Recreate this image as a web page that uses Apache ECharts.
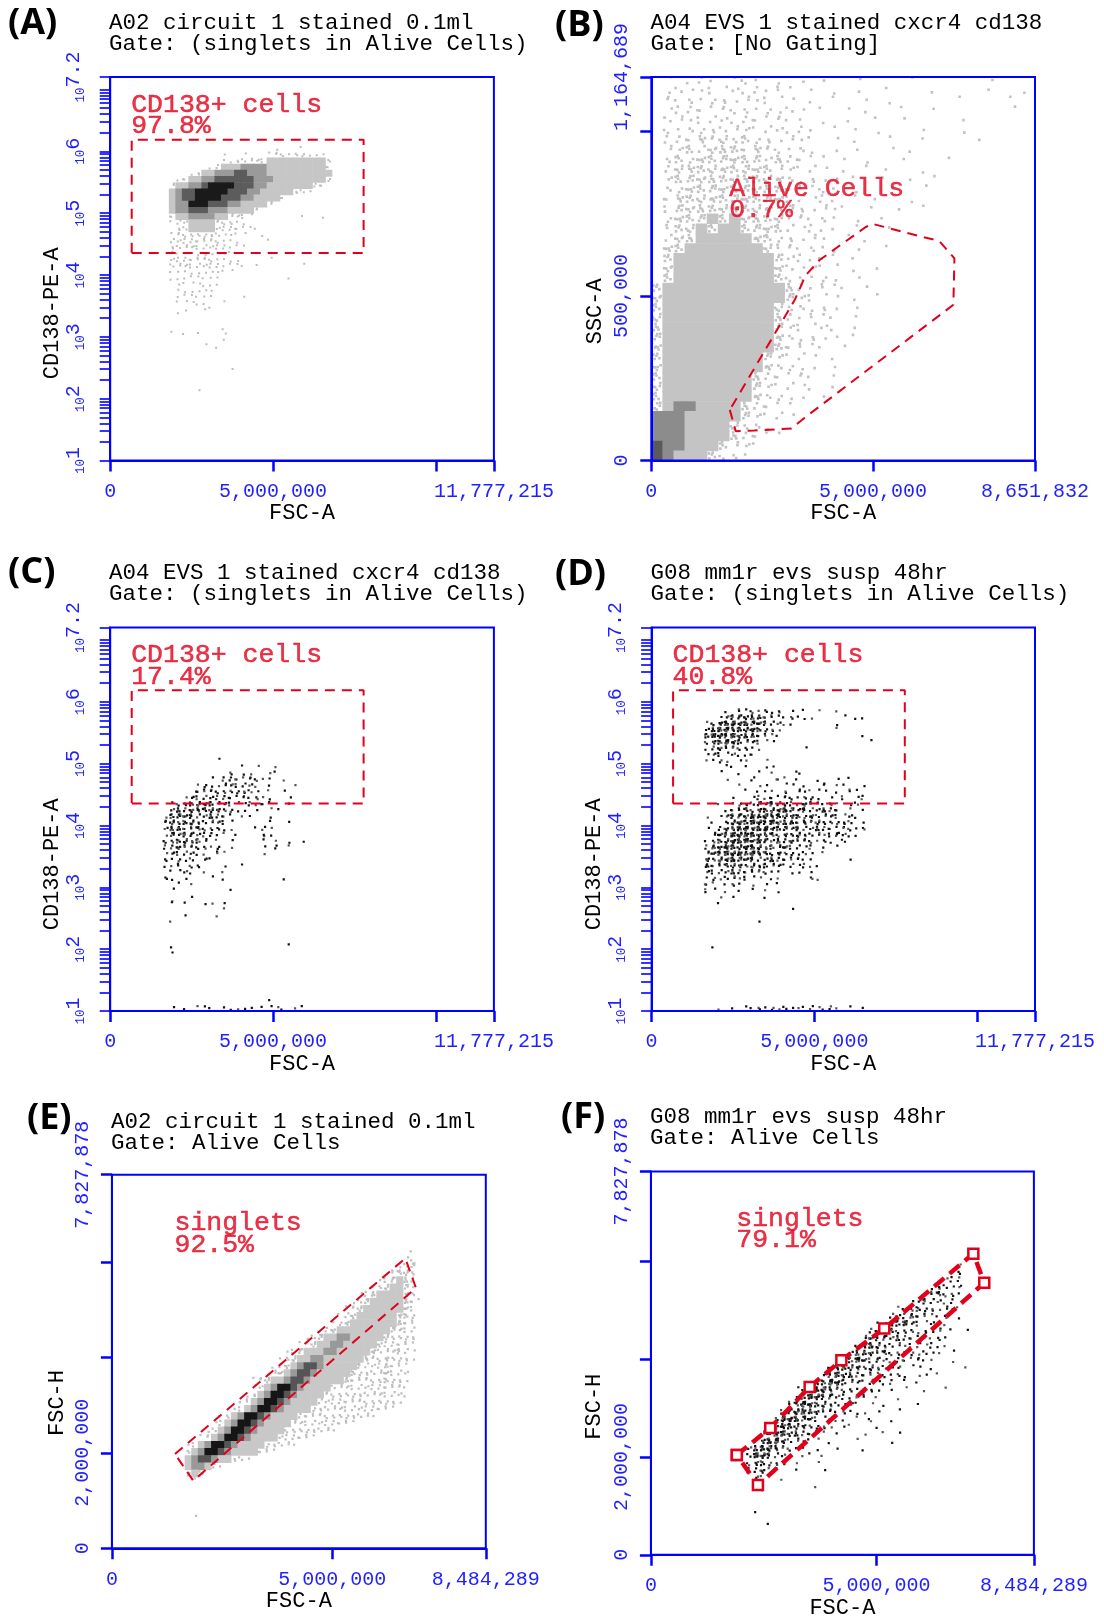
<!DOCTYPE html>
<html><head><meta charset="utf-8">
<script src="https://cdn.jsdelivr.net/npm/echarts@6/dist/echarts.min.js"></script>
<style>html,body{margin:0;padding:0;background:#fff}#c{width:1104px;height:1616px}</style>
</head><body><div id="c"></div>
<script>
// ---------------- DATA ----------------
const panelLetters = ['(A)', '(B)', '(C)', '(D)', '(E)', '(F)'];
const sampleNames = ['A02 circuit 1 stained 0.1ml', 'A04 EVS 1 stained cxcr4 cd138', 'A04 EVS 1 stained cxcr4 cd138', 'G08 mm1r evs susp 48hr', 'A02 circuit 1 stained 0.1ml', 'G08 mm1r evs susp 48hr'];
const gateTitles = ['Gate: (singlets in Alive Cells)', 'Gate: [No Gating]', 'Gate: (singlets in Alive Cells)', 'Gate: (singlets in Alive Cells)', 'Gate: Alive Cells', 'Gate: Alive Cells'];
const xNames = ['FSC-A', 'FSC-A', 'FSC-A', 'FSC-A', 'FSC-A', 'FSC-A'];
const yNames = ['CD138-PE-A', 'SSC-A', 'CD138-PE-A', 'CD138-PE-A', 'FSC-H', 'FSC-H'];
const yIsLog = [true, false, true, true, false, false];
const xMax = [11777215, 8651832, 11777215, 11777215, 8484289, 8484289];
const yMin = [1, 0, 1, 1, 0, 0];            // log panels: log10 exponent
const yMax = [7.2, 1164689, 7.2, 7.2, 7827878, 7827878];
const xTickValues = [[0, 5e6, 1e7, 11777215], [0, 5e6, 8651832], [0, 5e6, 1e7, 11777215], [0, 5e6, 1e7, 11777215], [0, 5e6, 8484289], [0, 5e6, 8484289]];
const xLabelValues = [[0, 5e6, 11777215], [0, 5e6, 8651832], [0, 5e6, 11777215], [0, 5e6, 11777215], [0, 5e6, 8484289], [0, 5e6, 8484289]];
const ssTickValues = [0, 5e5, 1e6, 1164689];
const ssLabelValues = [0, 5e5, 1164689];
const fscHTickValues = [0, 2e6, 4e6, 6e6, 7827878];
const fscHLabelValues = [0, 2e6, 7827878];
const logDecades = [1, 2, 3, 4, 5, 6];
const logMultipliers = [1, 2, 3, 4, 5, 6, 7, 8, 9];
const logExtraTicks = [7, 7.2];
const logLabelExponents = [1, 2, 3, 4, 5, 6, 7.2];

// gates (CD138 gate: FSC-A range and log10 CD138 range)
const cd138GateX = [660000, 7778000];
const cd138GateY = [4.354, 6.186];
const aliveGate = [[1770000, 153800], [1905000, 89100], [2326000, 91000], [3160000, 97300], [3437000, 127800], [6811000, 473000], [6835000, 614000], [6494000, 666800], [6018000, 682500], [4985000, 719000], [4827000, 708500], [3794000, 609000], [3477000, 562000], [3239000, 488800]];
const singletsGateE = [[1432000, 1976000], [6658000, 6076000], [6900000, 5454000], [1847000, 1416000]];
const singletsGateF = [[1903000, 2039000], [2644000, 2591000], [3517000, 3429000], [4219000, 3973000], [5170000, 4623000], [7143000, 6152000], [7385000, 5558000], [2371000, 1424000]];
const gateLabelNames = ['CD138+ cells', 'Alive Cells', 'CD138+ cells', 'CD138+ cells', 'singlets', 'singlets'];
const gatePercents = ['97.8%', '0.7%', '17.4%', '40.8%', '92.5%', '79.1%'];

// density bins: [x origin, x bin width, y top, y bin height]; rows top-down, "startCol|levels"
const binsA = [1.6e6, 2e5, 6.2, 0.1];
const densityA = [
  "", "17|.   .", "9|.  .   .::.::...", "9|..:::::111111111:", "7|.:1112222111111111:",
  "4|.:11222332221111111111", "2|.:112233333322211111111:", "1|:112234444333221111111::",
  "1|1233444443332211111::.", "1|12334444333221111:", "1|122444333221111:", "1|1223332221111:",
  "1|:11222211:::.       .  .", "1|.::1111:::..", "2|::1111::::...", "1|.:::::::....  .",
  "1|::::::::...    .", "1|:::::::::...", "1|..........", "1|:::::::....    .",
  "1|::::::::.... .      .", "1|..........", "1|........          .", "2|.......", "2|......",
  "2|......    .", "2|.....  .", "3|.  ..", "2|.", "", "9|.", "1|. . .   .", "9|.", "6|. .",
  "", "", "", "10|.", "", "", "5|."
];
const binsB = [0, 250000, 1170000, 30000];
const densityB = [
  " . .:. .:. . . .  .    .      .", " .:..:.:.:.:. . . .  .   .    .  .", " :.:.::.:.:.. . .  . .     .    .",
  " .:::.:::.:.:. . . .  .  .      .", " ::.:::.::.:.. . .  . .     .", " :.::::::.::.:. . . .   .   .",
  " :::+:+:+::.:.. . .  .  .    .", " ::+:+++:+::.:. . .  . .", " :+:++++++:+::.. . .  .   .",
  " :+++++++++::.:. . . .  .", " :++++++++++:.:.. . .  . .", " ::+++++++++::.:. .  .  .",
  " :++++++++++::.:. . .  .", " :+++++++++:+:.:.. .  . .", " :+++1+1++++::.:. . .",
  " :++1+11++++:.:.. .  .", " :++11111++::.:. . .", " ++1111111+::.:.. .  .",
  " +111111111+::.:. .", " +111111111+:.:.. . .", " +111111111+::.:. .",
  "+11111111111+:.:.. .", "+11111111111+::.. . .", "+1111111111+::.:. .",
  "+1111111111+:.:.. .", "+1111111111+::.:. .", "+1111111111+:.:.. .",
  "+1111111111+::.. .", "+111111111+:.:. .", "+111111111+::.. .",
  "+11111111+::.:. .", "+11111111+:.:.. .", "+11111111+::.. .",
  "+1221111+::..", "22211111+:.:.", "2221111+::.", "2221111+::..", "322111+::.", "32111+::."
];
const binsC = [1.6e6, 2e5, 6.2, 0.1];
const densityC = [
  "", "", "", "", "", "", "", "", "", "", "",
  "8|.", "12|. .  .", "10|: ..  ..", "7|. :::.::.. .", "5|.:..:::::. .   .", "5|:::::::::. . .",
  "3|.:::::::.:.:..  .", "1|.::++++:::..:.:.  .", "1|:+:+++++::.. . ..", "0|.++++::+::. ..  .",
  "0|:+:++:::::.     .  .", "0|:++::+:::..   .:.", "0|.+:++:::.. .   :.", "0|::++:+: . .    . . . .",
  "0|::+::::.: .    . : .", "0|.::::.. :.     .", "0|:.:.: :.", "0|..: ::   .  .", "1|..:. .  .",
  "0|:. .   . .        .", "2|. .", "1|.        .", "4|.", "1|: .  .. .", "9|.", "3|.    .", "1|.",
  "", "", "", "1|.                 .", "1|.", "", "", "", "", "", "", "", "16|.",
  "1|. . ... ..... .... .."
];
const binsD = [1.6e6, 2e5, 6.2, 0.1];
const densityD = [
  "", "", "", "3|. :.:.:.: . . .  .", "2|.:+++++::..:...    . ..", "0|.:+##+#+++::..      .",
  "0|:+##+#+#+::.        .", "0|+##+#+++::..            .", "0|:++#++:::..              .",
  "0|.:+::::..      .", "0|.::.:..:", "0|..:. ..  .", "3|.. .  ..", "2|.  .  . .   :",
  "3|.   :   :. .  .  . .", "5|.  ..  .. .  : ..  .", "6|. ... : :.... . :.",
  "4|.  .:.:.::.::. . : .:", "2|. .:::+:+:+:.+::.:. .:", "3|.::+:++++#+:+::+:: . .",
  "0|. .:+++#+#+#+++:+::::.:.", "1|. :+#+##+#+++:+:+::::: .", "0|. :++##+##+++:+::+::.::.:",
  "1|:++####+++:+:+:::.:+:..", "0|.:++###+#+:+:+:::.:. :", "0|:++##+##+:+:+::.: . .",
  "0|:++###+#++:+::.:. .", "0|+:++#+++::+::::..     .", "0|+::+++:+:+::.:.:..",
  "0|::::+:::::.. .. .", "0|.:.::.:.. ..    :.", "0|:. .:. . . .", "0|:. . . . . .",
  "2|. .    .", "2|.", "13|.", "", "8|.", "", "", "", "1|.", "", "", "", "", "", "", "", "", "",
  "0|  . . ..:.:.:...:..:. . ."
];
const binsE = [1.65e6, 150000, 6.6e6, 150000];
const densityE = [
  "", "", "34|.", "33|..", "32|.:+", "31|:++:", "29|.:+1+:", "28|.:+11+:", "26|.:+1111+:",
  "25|.:+11111+:.", "24|.:+111111+:", "23|.:+111111++:", "22|.:+1111111+::", "20|.:+11111111+:::",
  "18|.:+112211111+::::", "17|.:+112211111+::::.", "15|.:+1112211111+:::+:.",
  "14|.:+1122111111+::+:::.", "13|.:+1233211111+:::+::.", "12|.:+1233211111+::::+:::",
  "10|.:+11233211111+:::::+::.", "10|.:1244321111:::::::::::.", "9|.:1244321111::::::::::::.",
  "8|.:1244321111::::::::::::.", "7|.:1244321111::::::::::::.", "5|.:1244321111:::::::::::.",
  "4|.:1244321111:::::::::.", "3|.:1244321111:::::::.", "2|.:1244321111:::::.",
  "0|.:1244321111::::.", "0|:1244321111::.", "0|1233211::.", "0|1221:.", "0|:1:", "1|.",
  "", "", "", "", "1|."
];
const binsF = [1.65e6, 150000, 6.6e6, 150000];
const densityF = [
  "", "", "", "", "34|.", "33|.:", "32|.::", "30|.::.:", "29|.:+::.", "27|.:+::.:", "25|.::+::.:..",
  "24|:+:+::..: .", "22|.:++#::.:..", "21|:+++:::.:.: . .", "20|:+++:+::.:.:.", "19|.+#+:::.::.:..",
  "18|:+++:+::.:.:.. .", "16|.++#+:+:.::.:..  .", "15|:+#++:+::.: .. .    .", "14|:+#++:::.:.:. .. .",
  "13|:+##+::.:..: . .", "10|.:+##+:::..:. . .  .  .", "10|:+##++::..: .  .", "9|:+##++::.:. . .    .",
  "8|:+##++::.:... .  .", "7|:###++:.:.. . :  .", "6|:+##++:::. ..   .", "5|:+##++::.. .   .  . .",
  "4|.+##+::... .   .    .", "3|:+##+::.. .  .   .", "3|:##+::. .. .", "3|:++::. .  .", "3|::+..  .   .",
  "4|:.  .", "4|.        .", "5|.", "", "", "4|.", "6|."
];

// ---------------- LAYOUT / STYLE ----------------
const BLUE = '#0000ff', LBLUE = '#1f1fff', RED = '#e3001b';
const MONO = '"Liberation Mono", "DejaVu Sans Mono", monospace';
const gridBoxes = [
  [110.2, 77.1, 383.7, 383.4], [651.3, 77.1, 383.7, 383.4],
  [110.2, 627.5, 383.7, 383.6], [651.6, 627.5, 383.4, 383.6],
  [111.9, 1174.7, 373.9, 373.6], [650.9, 1171.6, 383.0, 383.2]
];
const letterPos = [[8, 6], [555, 8], [8, 555], [555, 557], [27, 1101], [561, 1100]];
const titlePos = [[109, 13], [650.6, 13], [109, 563], [650.6, 563], [110.9, 1112], [649.9, 1107]];
const yNameGap = [47, 45.5, 47, 46.5, 44, 46];
const yNameShift = [89, 85, 90, 90, 83, 87];
const yLabelMargin = [23, 20, 23, 23, 19, 19];

const LEVELS = ' .:+#1234';
const DOT_PATTERN = [[0.1, 0.2], [0.55, 0.1], [0.85, 0.45], [0.3, 0.6], [0.7, 0.85], [0.15, 0.9], [0.45, 0.35], [0.9, 0.05],
  [0.05, 0.55], [0.6, 0.55], [0.35, 0.05], [0.8, 0.7], [0.25, 0.8], [0.5, 0.95], [0.95, 0.3], [0.4, 0.45]];
const grayStyle = { fill: { '1': '#c6c6c6', '2': '#9a9a9a', '3': '#5c5c5c', '4': '#1a1a1a' }, dots: { '.': 1, ':': 2, '+': 5 }, dotColors: ['#bdbdbd'], dotSize: 2 };
const grayStyleB = { fill: { '1': '#c4c4c4', '2': '#8c8c8c', '3': '#5a5a5a', '4': '#222222' }, dots: { '.': 1, ':': 2, '+': 5 }, dotColors: ['#c2c2c2'], dotSize: 2.6 };
const grayStyleE = { fill: { '1': '#c8c8c8', '2': '#999999', '3': '#555555', '4': '#151515' }, dots: { '.': 1, ':': 2, '+': 4 }, dotColors: ['#bebebe'], dotSize: 2.2 };
const darkStyle = { fill: {}, dots: { '.': 1, ':': 2, '+': 4, '#': 7 }, dotColors: ['#111111', '#111111', '#555555'], dotSize: 2.2 };

function fmtNum(v) { return String(Math.round(v)).replace(/\B(?=(\d{3})+(?!\d))/g, ','); }

const logTickValues = [];
logDecades.forEach(d => logMultipliers.forEach(m => logTickValues.push(d + Math.log10(m))));
logExtraTicks.forEach(v => logTickValues.push(v));

function makeDensitySeries(i, rows, bins, st) {
  const x0 = bins[0], dx = bins[1], yTop = bins[2], dy = bins[3];
  const data = [];
  rows.forEach((row, r) => {
    if (!row) return;
    let start = 0, pat = row;
    const bar = row.indexOf('|');
    if (bar >= 0) { start = parseInt(row.slice(0, bar), 10); pat = row.slice(bar + 1); }
    for (let k = 0; k < pat.length; k++) {
      const ch = pat[k];
      if (ch === ' ') continue;
      const c = start + k;
      const xl = x0 + c * dx, yh = yTop - r * dy;
      data.push([xl, yh - dy, xl + dx, yh, LEVELS.indexOf(ch), c, r]);
    }
  });
  return {
    type: 'custom', xAxisIndex: i, yAxisIndex: i, silent: true, clip: true, z: 2,
    encode: { x: [0, 2], y: [1, 3] },
    data: data,
    renderItem: function (params, api) {
      const p0 = api.coord([api.value(0), api.value(3)]);
      const p1 = api.coord([api.value(2), api.value(1)]);
      const w = p1[0] - p0[0], h = p1[1] - p0[1];
      const ch = LEVELS[api.value(4)];
      if (st.fill[ch]) {
        return { type: 'rect', shape: { x: p0[0], y: p0[1], width: w + 0.6, height: h + 0.6 }, style: { fill: st.fill[ch] } };
      }
      const n = st.dots[ch] || 0;
      const c = api.value(5), r = api.value(6);
      const s = st.dotSize;
      const children = [];
      for (let j = 0; j < n; j++) {
        const q = DOT_PATTERN[(c * 7 + r * 13 + j * 5) % DOT_PATTERN.length];
        children.push({ type: 'rect', shape: { x: p0[0] + q[0] * (w - s), y: p0[1] + q[1] * (h - s), width: s, height: s },
          style: { fill: st.dotColors[(c + r + j) % st.dotColors.length] } });
      }
      return { type: 'group', children: children };
    }
  };
}

function closePoly(pts) { return pts.concat([pts[0]]); }
function rectPoly(xs, ys) { return [[xs[0], ys[0]], [xs[1], ys[0]], [xs[1], ys[1]], [xs[0], ys[1]]]; }

const gates = [
  rectPoly(cd138GateX, cd138GateY), aliveGate, rectPoly(cd138GateX, cd138GateY),
  rectPoly(cd138GateX, cd138GateY), singletsGateE, singletsGateF
];
const densities = [
  [densityA, binsA, grayStyle], [densityB, binsB, grayStyleB], [densityC, binsC, darkStyle],
  [densityD, binsD, darkStyle], [densityE, binsE, grayStyleE], [densityF, binsF, darkStyle]
];

// ---------------- OPTION ----------------
const titles = [], grids = [], xAxes = [], yAxes = [], series = [];
for (let i = 0; i < 6; i++) {
  titles.push({ left: letterPos[i][0], top: letterPos[i][1], padding: 0, text: panelLetters[i],
    textStyle: { fontFamily: '"Open Sans", "Noto Sans", sans-serif', fontWeight: 'bold', fontSize: 36, color: '#000' } });
  titles.push({ left: titlePos[i][0], top: titlePos[i][1], padding: 0, text: sampleNames[i] + '\n' + gateTitles[i],
    textStyle: { fontFamily: MONO, fontWeight: 'normal', fontSize: 22.5, lineHeight: 20.7, color: '#000' } });
  const b = gridBoxes[i];
  grids.push({ left: b[0], top: b[1], width: b[2], height: b[3], show: true, borderColor: BLUE, borderWidth: 2,
    backgroundColor: 'rgba(0,0,0,0)', containLabel: false, outerBoundsMode: 'none', z: 10 });
  xAxes.push({
    gridIndex: i, type: 'value', min: 0, max: xMax[i], z: 10,
    axisLine: { show: true, onZero: false, lineStyle: { color: BLUE, width: 2 } },
    axisTick: { show: true, length: 11, lineStyle: { color: BLUE, width: 2.5 }, customValues: xTickValues[i] },
    axisLabel: { show: true, customValues: xLabelValues[i], formatter: fmtNum, color: LBLUE, fontFamily: MONO, fontSize: 20, margin: 21 },
    splitLine: { show: false },
    name: xNames[i], nameLocation: 'middle', nameGap: 40,
    nameTextStyle: { fontFamily: MONO, fontSize: 22, color: '#000' }
  });
  const yBase = {
    gridIndex: i, type: 'value', min: yMin[i], max: yMax[i], z: 10,
    axisLine: { show: true, onZero: false, lineStyle: { color: BLUE, width: 2 } },
    splitLine: { show: false },
    name: yNames[i], nameLocation: 'middle', nameGap: yNameGap[i], nameRotate: 90,
    nameTextStyle: { fontFamily: MONO, fontSize: 22, color: '#000', padding: [0, yNameShift[i], 0, 0] }
  };
  if (yIsLog[i]) {
    yBase.axisTick = { show: true, length: 10.5, lineStyle: { color: BLUE, width: 1.6 }, customValues: logTickValues };
    yBase.axisLabel = { show: true, customValues: logLabelExponents, rotate: 90, margin: yLabelMargin[i],
      formatter: v => '{b|10}{e|' + (Math.round(v * 10) / 10) + '}',
      rich: { b: { fontFamily: MONO, fontSize: 12.5, color: LBLUE, verticalAlign: 'bottom' },
              e: { fontFamily: MONO, fontSize: 20, color: LBLUE, verticalAlign: 'bottom', padding: [0, 0, 3, 0] } } };
  } else {
    const ticks = i === 1 ? ssTickValues : fscHTickValues;
    const labels = i === 1 ? ssLabelValues : fscHLabelValues;
    yBase.axisTick = { show: true, length: 11, lineStyle: { color: BLUE, width: 2.5 }, customValues: ticks };
    yBase.axisLabel = { show: true, customValues: labels, rotate: 90, margin: yLabelMargin[i], formatter: fmtNum,
      color: LBLUE, fontFamily: MONO, fontSize: 20 };
  }
  yAxes.push(yBase);

  const d = densities[i];
  series.push(makeDensitySeries(i, d[0], d[1], d[2]));

  const isF = i === 5;
  series.push({
    type: 'line', xAxisIndex: i, yAxisIndex: i, silent: true, z: 4, smooth: false,
    data: closePoly(gates[i]),
    symbol: isF ? 'rect' : 'none', symbolSize: 10, showSymbol: isF,
    itemStyle: { color: '#ffffff', borderColor: RED, borderWidth: 2.5 },
    lineStyle: { color: RED, width: isF ? 4.5 : 2, type: isF ? [13, 7] : [10, 7] }
  });
  let ax = Infinity, ay = -Infinity;
  gates[i].forEach(p => { ax = Math.min(ax, p[0]); ay = Math.max(ay, p[1]); });
  series.push({
    type: 'scatter', xAxisIndex: i, yAxisIndex: i, silent: true, z: 5,
    symbol: 'rect', symbolSize: 1, itemStyle: { color: 'rgba(0,0,0,0)' },
    data: [[ax, ay]],
    label: { show: true, position: [0, -2], align: 'left', verticalAlign: 'bottom',
      formatter: gateLabelNames[i] + '\n' + gatePercents[i],
      fontFamily: MONO, fontSize: 26.5, lineHeight: 21.7, color: RED, textBorderColor: RED, textBorderWidth: 0.5 }
  });
}

const chart = echarts.init(document.getElementById('c'), null, { renderer: 'canvas' });
chart.setOption({ animation: false, backgroundColor: '#ffffff', title: titles, grid: grids, xAxis: xAxes, yAxis: yAxes, series: series });
</script></body></html>
